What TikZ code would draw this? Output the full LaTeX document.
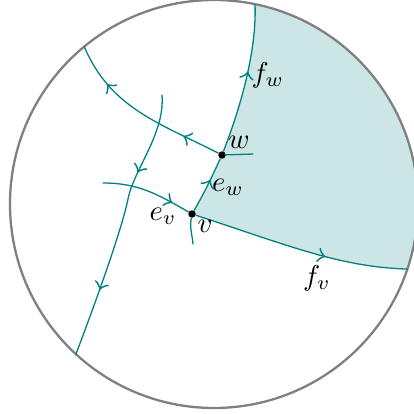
\documentclass[tikz,border=0pt]{standalone}
\usetikzlibrary{decorations.markings,backgrounds}
\begin{document}
\begin{tikzpicture}[x=0.01225cm,y=0.01225cm,line cap=round,line join=round,>=to,
  edge/.style={teal,line width=0.45pt},
  midarrow/.style={postaction={decorate,decoration={markings,mark=at position #1 with {\arrow[scale=1.4]{>}}}}},
  vertex/.style={circle,fill=black,inner sep=0pt,minimum size=2.6pt}]
  \useasboundingbox (0,0) rectangle (414,414);
  \coordinate (o) at (214,210);
  \node[vertex] (v) at (192,200) {};
  \node[vertex] (w) at (222,259) {};
  \coordinate (ft) at ([shift={(214,210)}]78.4:204);
  \coordinate (fe) at ([shift={(214,210)}]-18.6:204);
  \coordinate (a1) at ([shift={(214,210)}]129.5:204);
  \coordinate (a2) at (253,260);
  \coordinate (a3) at (193,170);
  \coordinate (b1) at (103,231);
  \coordinate (c1) at (162,319);
  \coordinate (c2) at (128,215);
  \coordinate (c3) at ([shift={(214,210)}]-132.6:204);
  % shaded face
  \begin{scope}[on background layer]
    \fill[teal!20] (v.center) to[out=60,in=245] (w.center) .. controls (238,300) and (257,360) .. (ft)
      arc[start angle=78.4,end angle=-18.6,radius=204] .. controls (340,147) and (290,168) .. (v.center) -- cycle;
  \end{scope}
  \draw[gray,line width=0.8pt] (o) circle[radius=204];
  % edges
  \draw[edge,midarrow=0.6] (v) to[out=60,in=245] (w);
  \draw[edge,midarrow=0.55] (w) .. controls (238,300) and (257,360) .. (ft);
  \draw[edge,midarrow=0.62] (v) .. controls (290,168) and (340,147) .. (fe);
  \draw[edge,midarrow=0.22,midarrow=0.75] (w) to[out=153,in=-67] (a1);
  \draw[edge] (w) -- (a2);
  \draw[edge] (v) to[out=-100,in=95] (a3);
  \draw[edge,midarrow=0.8] (b1) to[out=0,in=150] (v);
  \draw[edge,midarrow=0.3,midarrow=0.75] (c1) .. controls (165,280) and (134,245) .. (c2)
    .. controls (122,185) and (95,110) .. (c3);
  % labels
  \node[inner sep=1pt] (lw) at (239,272) {$w$};
  \node[inner sep=1pt] (lew) at (228,227) {$e_w$};
  \node[inner sep=1pt] (lev) at (163,198) {$e_v$};
  \node[inner sep=1pt] (lv) at (205,188) {$v$};
  \node[inner sep=1pt] (lfw) at (268,339) {$f_w$};
  \node[inner sep=1pt] (lfv) at (317,136) {$f_v$};
\end{tikzpicture}
\end{document}
